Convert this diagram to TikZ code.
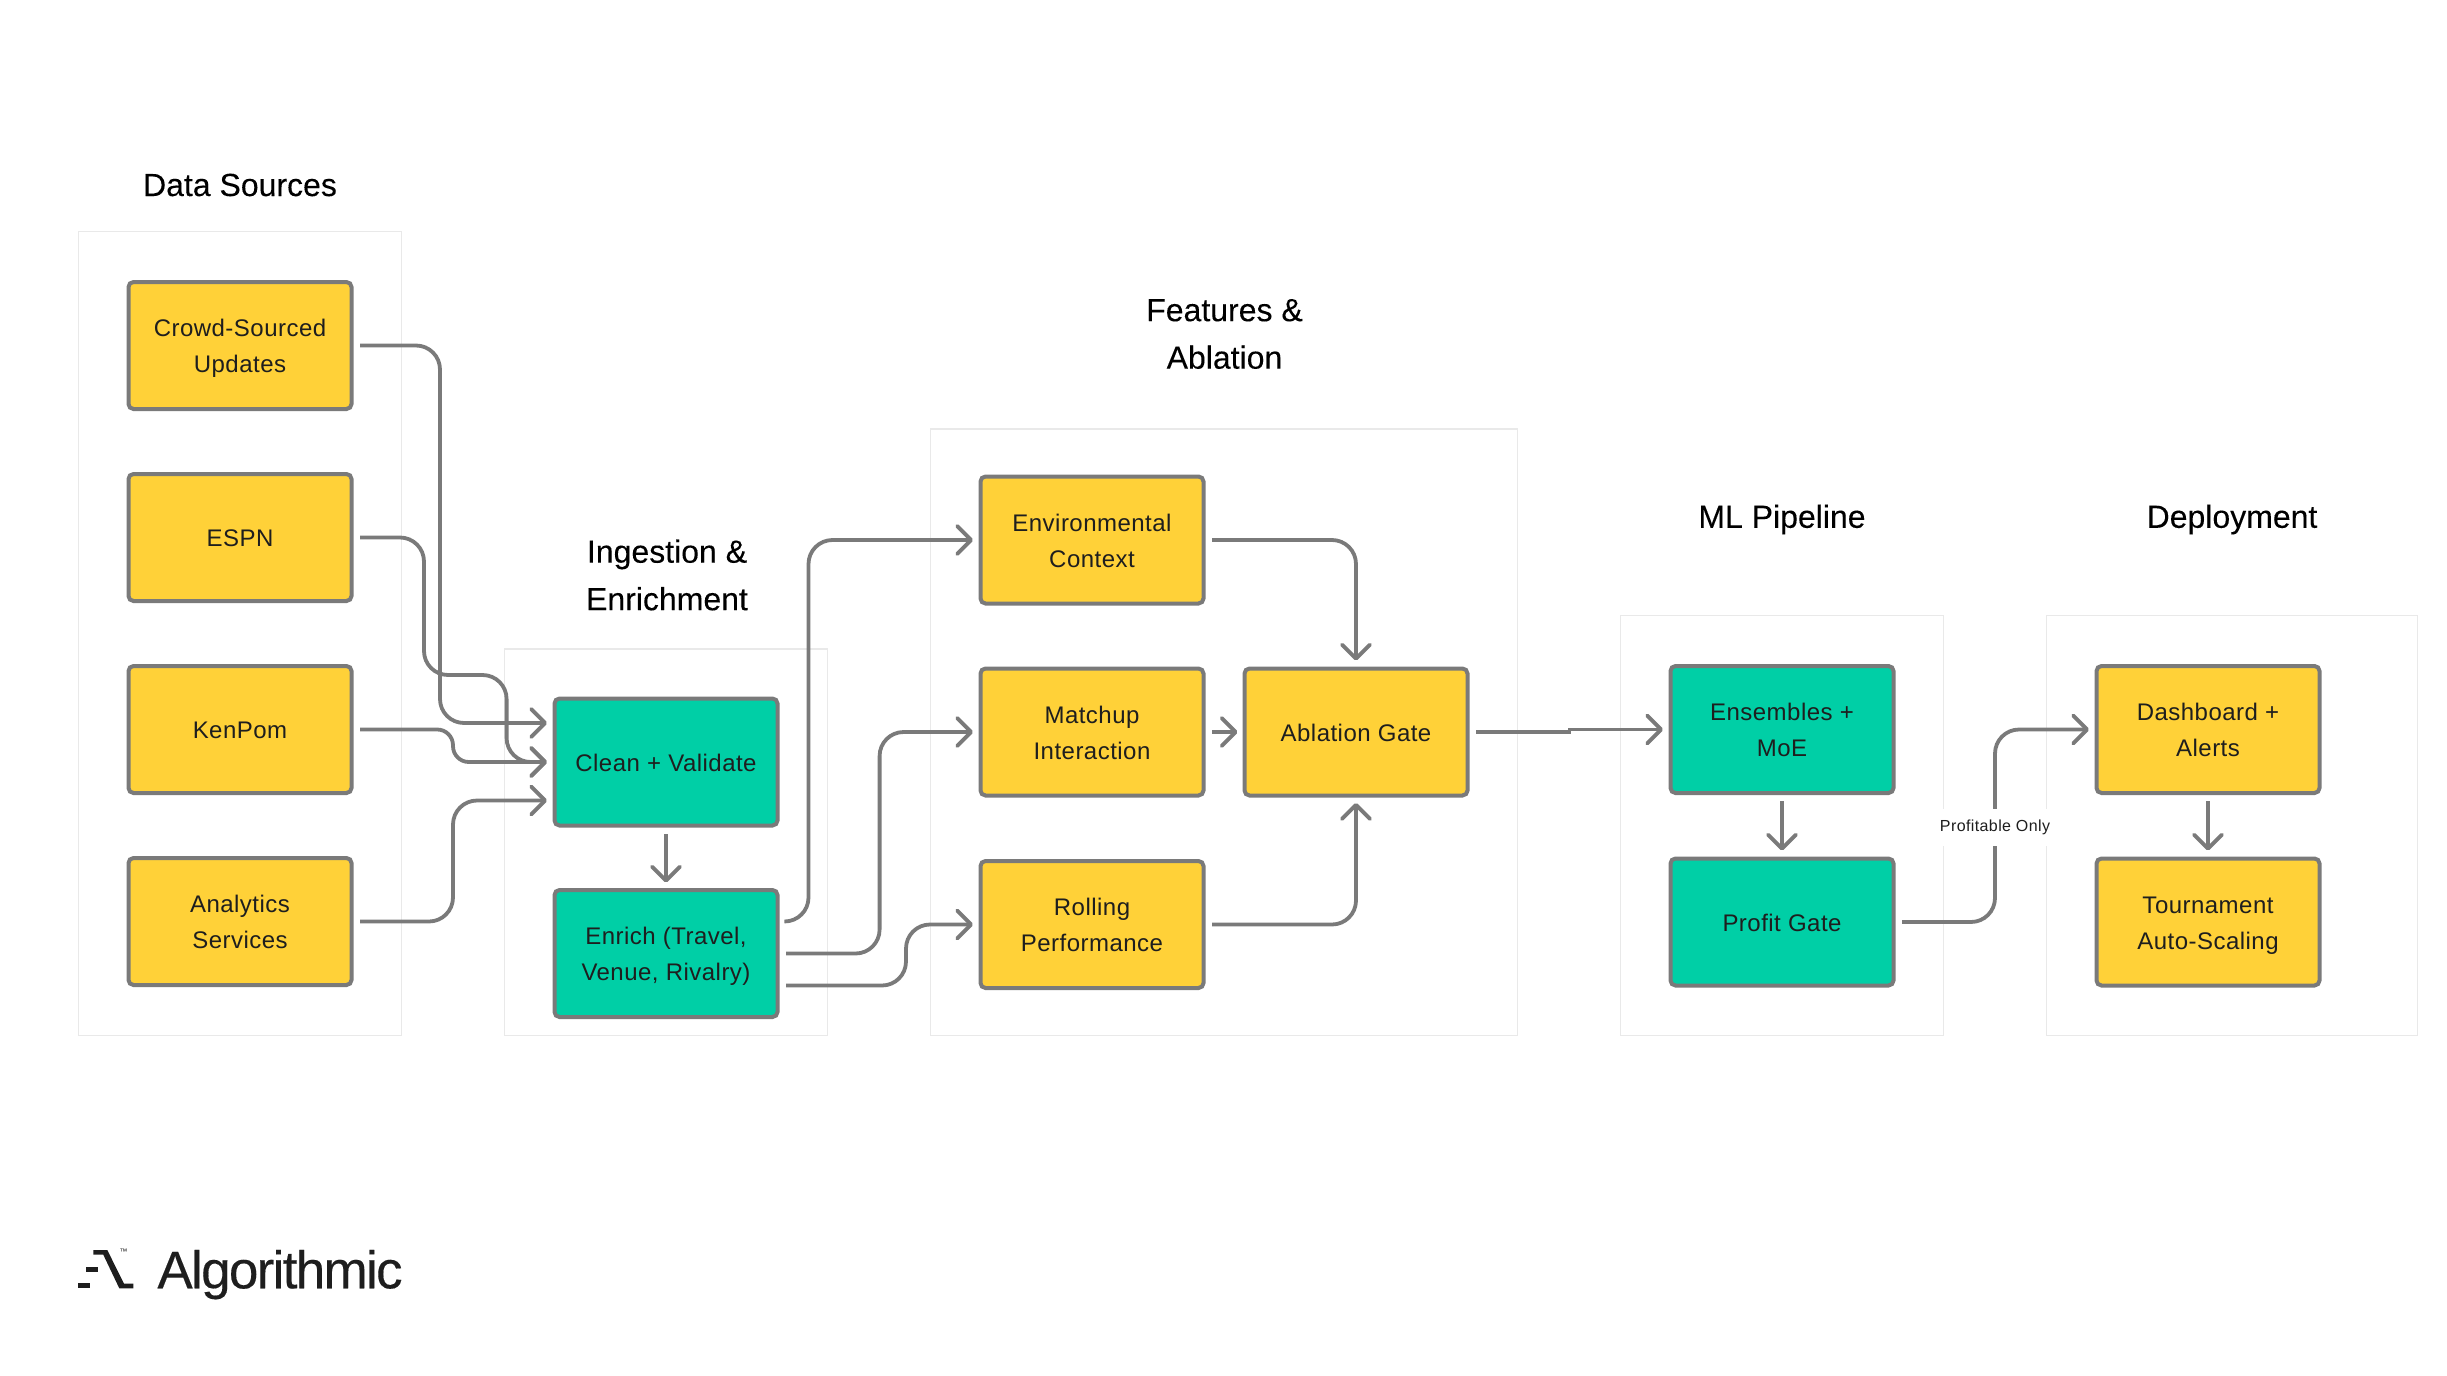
\documentclass[tikz,border=0pt]{standalone}
\usepackage{fontspec}
\setmainfont{Liberation Sans}
\newfontfamily\boxfont[LetterSpace=2]{Liberation Sans}
\newfontfamily\lblfont[LetterSpace=2.5]{Liberation Sans}
\newfontfamily\titlefont[FakeBold=0.12]{Liberation Sans}
\newfontfamily\logofont[LetterSpace=-3.2,FakeBold=0.25]{Liberation Sans}
\usetikzlibrary{arrows.meta}
\definecolor{fyellow}{HTML}{FFD138}
\definecolor{fgreen}{HTML}{00CFA6}
\definecolor{lgray}{HTML}{7A7A7A}
\definecolor{framegray}{HTML}{E9E9E9}
\definecolor{ink}{HTML}{1E1E1E}
\newcommand{\lnst}{\rule[-3pt]{0pt}{15.4pt}}
\tikzset{
  frame/.style={draw=framegray,line width=0.75pt,fill=white},
  proc/.style={draw=lgray,line width=2pt,rounded corners=2.5pt,minimum width=111.5pt,minimum height=63.5pt,
    outer sep=0pt,inner sep=0pt,align=center,text=ink,font=\boxfont\fontsize{12}{18}\selectfont},
  yellowbox/.style={proc,fill=fyellow},
  greenbox/.style={proc,fill=fgreen},
  title/.style={align=center,text=black,inner sep=0pt,font=\titlefont\fontsize{16}{23.75}\selectfont},
  conn/.style={draw=lgray,line width=1.9pt,rounded corners=12pt,-{Straight Barb[length=7pt,width=14pt,round]}},
  lbl/.style={fill=white,inner sep=0pt,minimum width=56pt,minimum height=18.8pt,text=ink,font=\lblfont\fontsize{8}{10}\selectfont},
  logomark/.style={fill=ink,draw=none}
}
\begin{document}
\begin{tikzpicture}[x=0.5pt,y=-0.5pt]
\useasboundingbox (0,0) rectangle (2447,1376);
\fill[white] (0,0) rectangle (2447,1376);
% frames
\draw[frame] (78.6,231.5) rectangle (401.5,1035.5);
\draw[frame] (504.6,649) rectangle (827.6,1035.5);
\draw[frame] (930.6,429) rectangle (1517.6,1035.5);
\draw[frame] (1620.4,615.5) rectangle (1943.3,1035.5);
\draw[frame] (2046.3,615.5) rectangle (2417.6,1035.5);
% titles
\node[title] (t1) at (240,185) {Data Sources};
\node[title] (t2) at (667,575) {Ingestion \&\\Enrichment};
\node[title] (t3) at (1224.5,334) {Features \&\\Ablation};
\node[title] (t4) at (1782,519.5) {ML Pipeline};
\node[title] (t5) at (2232,519.5) {Deployment};
% boxes
\node[yellowbox] (crowd) at (240,345.5) {\lnst Crowd-Sourced\\\lnst Updates};
\node[yellowbox] (espn) at (240,537.5) {\lnst ESPN};
\node[yellowbox] (kenpom) at (240,729.5) {\lnst KenPom};
\node[yellowbox] (analytics) at (240,921.5) {\lnst Analytics\\\lnst Services};
\node[greenbox] (clean) at (666,762) {\lnst Clean + Validate};
\node[greenbox] (enrich) at (666,953.5) {\lnst Enrich (Travel,\\\lnst Venue, Rivalry)};
\node[yellowbox] (env) at (1092,540) {\lnst Environmental\\\lnst Context};
\node[yellowbox] (matchup) at (1092,732) {\lnst Matchup\\\lnst Interaction};
\node[yellowbox] (rolling) at (1092,924.5) {\lnst Rolling\\\lnst Performance};
\node[yellowbox] (abl) at (1356,732) {\lnst Ablation Gate};
\node[greenbox] (ens) at (1782,729.5) {\lnst Ensembles +\\\lnst MoE};
\node[greenbox] (profit) at (1782,922) {\lnst Profit Gate};
\node[yellowbox] (dash) at (2208,729.5) {\lnst Dashboard +\\\lnst Alerts};
\node[yellowbox] (tourn) at (2208,922) {\lnst Tournament\\\lnst Auto-Scaling};
% connectors
\draw[conn] ([xshift=4.25pt]crowd.east) -- (440,345.5) -- (440,723) -- ([xshift=-3.75pt,yshift=19.5pt]clean.west);
\draw[conn] ([xshift=4.25pt]espn.east) -- (424,537.5) -- (424,675) -- (506.6,675) -- (506.6,762) -- ([xshift=-3.75pt]clean.west);
\draw[conn,rounded corners=7.9pt] ([xshift=4.25pt]kenpom.east) -- (453,729.5) -- (453,762) -- ([xshift=-3.75pt]clean.west);
\draw[conn] ([xshift=4.25pt]analytics.east) -- (453,921.5) -- (453,800.5) -- ([xshift=-3.75pt,yshift=-19.25pt]clean.west);
\draw[conn] ([yshift=-4.25pt]clean.south) -- ([yshift=3.75pt]enrich.north);
\draw[conn] ([xshift=4.25pt,yshift=16pt]enrich.east) -- (808.5,921.5) -- (808.5,540) -- ([xshift=-3.75pt]env.west);
\draw[conn] ([xshift=4.25pt]enrich.east) -- (879.6,953.5) -- (879.6,732) -- ([xshift=-3.75pt]matchup.west);
\draw[conn] ([xshift=4.25pt,yshift=-16pt]enrich.east) -- (906,985.5) -- (906,924.5) -- ([xshift=-3.75pt]rolling.west);
\draw[conn] ([xshift=4.25pt]env.east) -- (abl.north |- env.east) -- ([yshift=4pt]abl.north);
\draw[conn] ([xshift=4.25pt]matchup.east) -- ([xshift=-3.5pt]abl.west);
\draw[conn] ([xshift=4.25pt]rolling.east) -- (abl.south |- rolling.east) -- ([yshift=-3.75pt]abl.south);
\draw[conn,rounded corners=0pt] ([xshift=4.25pt]abl.east) -- (1569.5,732) -- (1569.5,729.5) -- ([xshift=-3.75pt]ens.west);
\draw[conn] ([yshift=-4pt]ens.south) -- ([yshift=4pt]profit.north);
\draw[conn] ([xshift=4.25pt]profit.east) -- (1995,922) -- (1995,729.5) -- ([xshift=-3.75pt]dash.west);
\draw[conn] ([yshift=-4pt]dash.south) -- ([yshift=4pt]tourn.north);
\node[lbl] (plabel) at (1995,827.5) {Profitable Only};
% logo
\fill[logomark] (93.3,1250) -- (107.3,1250) -- (124,1283.7) -- (133.3,1283.7) -- (133.3,1288.3) -- (119.3,1288.3) -- (103.3,1254.7) -- (93.3,1254.7) -- cycle;
\fill[logomark] (85.7,1266.7) rectangle (97.7,1271.7);
\fill[logomark] (77.7,1283.3) rectangle (90,1288.3);
\node[anchor=center,inner sep=0pt,text=ink,font=\fontsize{4}{5}\selectfont] (tm) at (123.5,1252) {™};
\node[anchor=base west,inner sep=0pt,text=ink,font=\logofont\fontsize{26.5}{30}\selectfont] (logo) at (157,1288.3) {Algorithmic};
\end{tikzpicture}
\end{document}
